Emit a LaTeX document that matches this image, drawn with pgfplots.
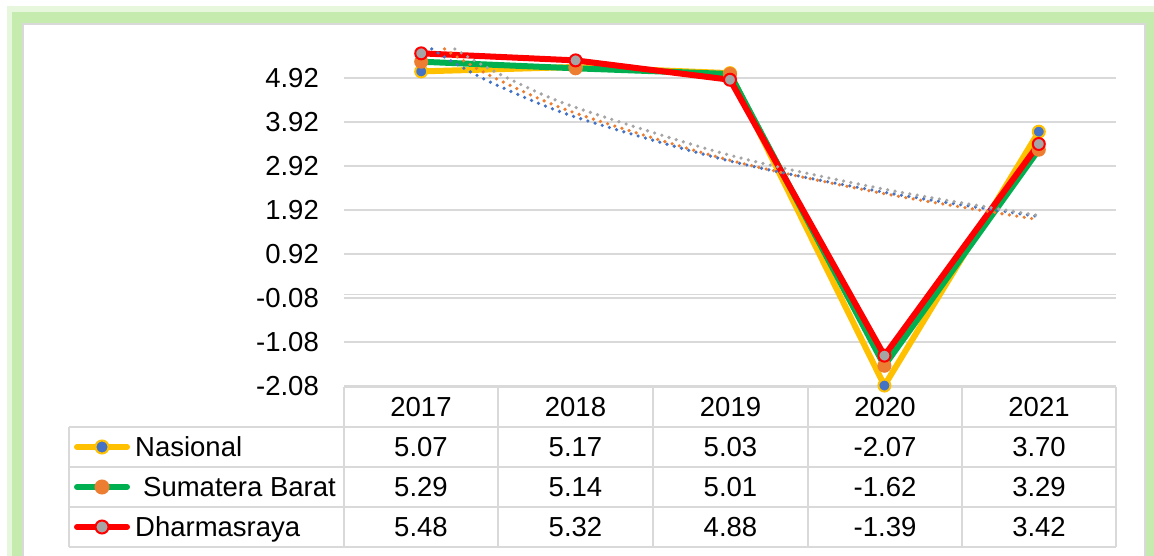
\documentclass[border=0pt]{standalone}
\usepackage{fontspec}
\setmainfont{Liberation Sans}
\usepackage{pgfplots}
\pgfplotsset{compat=1.18}
\usepackage{pgfplotstable}
\definecolor{cNas}{HTML}{FFC000}
\definecolor{cNasM}{HTML}{4472C4}
\definecolor{cSum}{HTML}{00B050}
\definecolor{cSumM}{HTML}{ED7D31}
\definecolor{cDha}{HTML}{FF0000}
\definecolor{cDhaM}{HTML}{A5A5A5}
\definecolor{gridc}{HTML}{D9D9D9}
\definecolor{frameg}{HTML}{C5EBAE}

\pgfplotstableread{
x nas sum dha
0 5.07 5.29 5.48
1 5.17 5.14 5.32
2 5.03 5.01 4.88
3 -2.07 -1.62 -1.39
4 3.70 3.29 3.42
}\datatable

\pgfplotstableread{
x y
0.068 5.58
0.25 5.192
0.5 4.742
1 4.032
2 3.032
3 2.322
4 1.771
}\trendnas
\pgfplotstableread{
x y
0.151 5.58
0.25 5.362
0.5 4.880
1 4.121
2 3.050
3 2.290
4 1.701
}\trendsum
\pgfplotstableread{
x y
0.218 5.58
0.35 5.304
0.6 4.849
1 4.251
2 3.164
3 2.392
4 1.794
}\trenddha

\begin{document}
\begin{tikzpicture}[x=1pt,y=1pt]
\path[use as bounding box] (0,0) rectangle (1154,556);
\clip (0,0) rectangle (1154,556);
\fill[white] (0,0) rectangle (1154,556);
% frame
\draw[frameg, opacity=0.4, line width=17] (15,-30) rectangle (1153,541);
\draw[frameg, line width=11] (17.5,-30) rectangle (1150.5,538);
\draw[fill=white, draw=gridc, line width=1.5] (23,-20) rectangle (1145,532);
\tikzset{tf/.style={font=\fontsize{27.5}{33}\selectfont, inner sep=0pt}}
% data table grid
\begin{scope}[gridc, line width=2]
\draw (344,169.3) -- (1116,169.3);
\foreach \yy in {129,89,49,9} \draw (69,\yy) -- (1116,\yy);
\draw (69,129) -- (69,9);
\foreach \xx in {344,498,653,808,962,1116} \draw (\xx,169.3) -- (\xx,9);
\end{scope}
% header
\foreach \xx/\t in {421/2017,575.5/2018,730.5/2019,885/2020,1039/2021}
  \node[tf, anchor=base] at (\xx,139.2) {\t};
\foreach \xx/\t in {421/5.07,575.5/5.17,730.5/5.03,885/-2.07,1039/3.70}
  \node[tf, anchor=base] at (\xx,99.2) {\t};
\foreach \xx/\t in {421/5.29,575.5/5.14,730.5/5.01,885/-1.62,1039/3.29}
  \node[tf, anchor=base] at (\xx,59.2) {\t};
\foreach \xx/\t in {421/5.48,575.5/5.32,730.5/4.88,885/-1.39,1039/3.42}
  \node[tf, anchor=base] at (\xx,19.2) {\t};
% legend keys
\draw[cNas, line width=6, line cap=round] (77,109) -- (127,109);
\fill[cNasM, draw=cNas, line width=2] (102,109) circle (6.5);
\node[tf, anchor=base west] at (135,99.2) {Nasional};
\draw[cSum, line width=6, line cap=round] (77,69) -- (127,69);
\fill[cSumM, draw=cSumM, line width=2] (102,69) circle (6.5);
\node[tf, anchor=base west] at (143,59.2) {Sumatera Barat};
\draw[cDha, line width=6, line cap=round] (77,29) -- (127,29);
\fill[cDhaM, draw=cDha, line width=2] (102,29) circle (6.5);
\node[tf, anchor=base west] at (135,19.2) {Dharmasraya};

\begin{axis}[at={(344pt,170pt)}, anchor=south west, scale only axis,
  width=772pt, height=337.04pt,
  xmin=-0.5, xmax=4.5, ymin=-2.08, ymax=5.58, clip=false,
  axis line style={draw=none}, tick style={draw=none},
  xtick=\empty,
  ytick={-2.08,-1.08,-0.08,0.92,1.92,2.92,3.92,4.92},
  yticklabels={-2.08,-1.08,-0.08,0.92,1.92,2.92,3.92,4.92},
  ymajorgrids, major grid style={gridc, line width=1.5pt},
  extra y ticks={0}, extra y tick labels={},
  extra y tick style={grid=major, major grid style={gridc, line width=1.5pt}},
  yticklabel style={font=\fontsize{27.5}{33}\selectfont, anchor=east, inner sep=0pt, xshift=-25pt},
]
\addplot[cNas, line width=6pt, line join=round] table[x=x,y=nas]{\datatable};
\addplot[cSum, line width=6pt, line join=round] table[x=x,y=sum]{\datatable};
\addplot[cDha, line width=6pt, line join=round] table[x=x,y=dha]{\datatable};
\addplot[cNasM, line width=3.6pt, line cap=round, dash pattern=on 0pt off 7.5pt, smooth] table[x=x,y=y]{\trendnas};
\addplot[cSumM, line width=3.6pt, line cap=round, dash pattern=on 0pt off 7.5pt, smooth] table[x=x,y=y]{\trendsum};
\addplot[cDhaM, line width=3.6pt, line cap=round, dash pattern=on 0pt off 7.5pt, smooth] table[x=x,y=y]{\trenddha};
\addplot[only marks, mark=*, mark size=6pt, mark options={fill=cNasM, draw=cNas, line width=2pt}] table[x=x,y=nas]{\datatable};
\addplot[only marks, mark=*, mark size=6pt, mark options={fill=cSumM, draw=cSumM, line width=2pt}] table[x=x,y=sum]{\datatable};
\addplot[only marks, mark=*, mark size=6pt, mark options={fill=cDhaM, draw=cDha, line width=2pt}] table[x=x,y=dha]{\datatable};
\end{axis}
\end{tikzpicture}
\end{document}
